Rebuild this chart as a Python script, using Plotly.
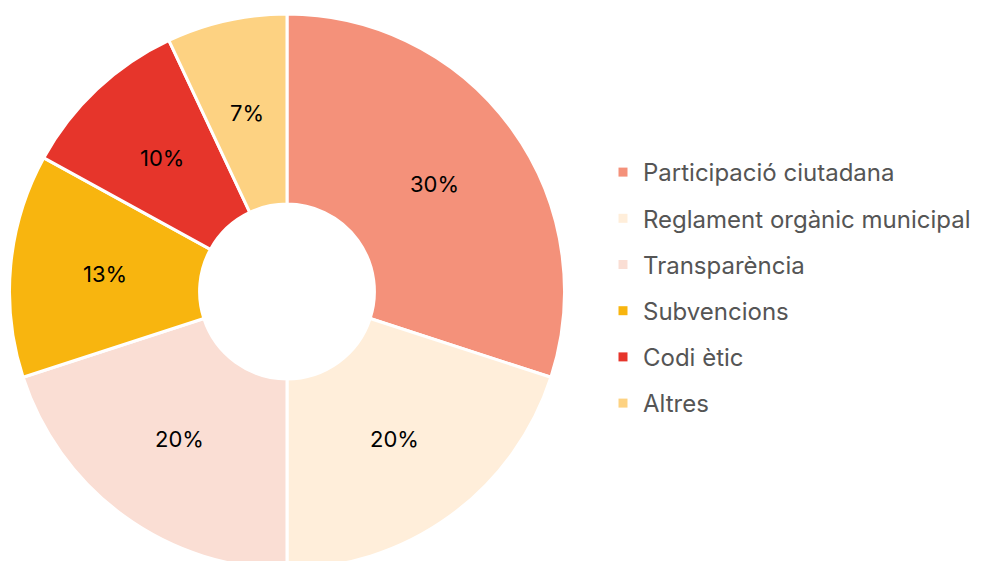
import math
import plotly.graph_objects as go

labels = ["Participació ciutadana", "Reglament orgànic municipal", "Transparència",
          "Subvencions", "Codi ètic", "Altres"]
values = [30, 20, 20, 13, 10, 7]
colors = ["#F4917A", "#FFEEDA", "#FADED4", "#F8B50F", "#E6352B", "#FDD282"]

W, H = 981, 561
HOLE = 0.315
DOM_X = [0, 558 / W]
DOM_Y = [0, 1 - 6 / H]

fig = go.Figure()
fig.add_trace(go.Pie(
    labels=labels, values=values, hole=HOLE, sort=False, direction="clockwise",
    rotation=0, marker=dict(colors=colors, line=dict(color="white", width=3)),
    textinfo="none", showlegend=False, hoverinfo="label+percent",
    domain=dict(x=DOM_X, y=DOM_Y),
))

# percentage labels placed at the middle of the ring along each slice bisector
cx = (DOM_X[0] + DOM_X[1]) / 2
cy = (DOM_Y[0] + DOM_Y[1]) / 2
R = min((DOM_X[1] - DOM_X[0]) * W, (DOM_Y[1] - DOM_Y[0]) * H) / 2
rmid = R * (1 + HOLE) / 2
total = sum(values)
cum = 0
for v in values:
    ang = 2 * math.pi * (cum + v / 2) / total
    cum += v
    fig.add_annotation(
        x=cx + rmid * math.sin(ang) / W, y=cy + rmid * math.cos(ang) / H,
        xref="paper", yref="paper", text=f"{v}%", showarrow=False,
        font=dict(family="Inter", size=22, color="#000000"),
        xanchor="center", yanchor="middle",
    )

for lab, col in zip(labels, colors):
    fig.add_trace(go.Scatter(
        x=[None], y=[None], mode="markers", name=lab, legendgroup=lab,
        marker=dict(symbol="square", size=9, color=col),
    ))

fig.update_layout(
    width=W, height=H, margin=dict(l=0, r=0, t=0, b=0),
    paper_bgcolor="white", plot_bgcolor="white",
    xaxis=dict(visible=False), yaxis=dict(visible=False),
    legend=dict(x=595 / W, y=1 - 280 / H, xanchor="left", yanchor="middle",
                font=dict(family="Inter", size=24, color="#555555"),
                tracegroupgap=12, itemwidth=30, bgcolor="rgba(0,0,0,0)"),
)
fig.write_html("out.html")
